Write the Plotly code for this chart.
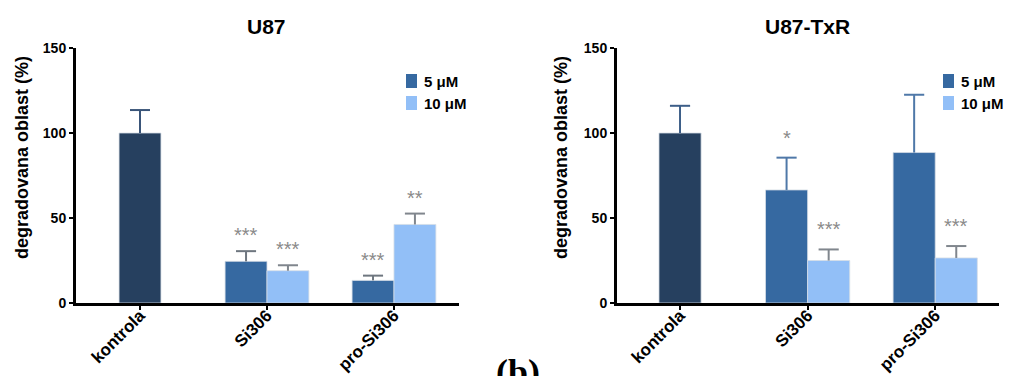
import plotly.graph_objects as go

# ---- data -------------------------------------------------------------
categories = ["kontrola", "Si306", "pro-Si306"]
treated = ["Si306", "pro-Si306"]
dose_labels = ["5 \u03bcM", "10 \u03bcM"]

# U87
u87_control = [100]
u87_control_err = [13.5]
u87_5uM = [24.5, 13.3]
u87_5uM_err = [6.0, 2.8]
u87_10uM = [19.0, 46.2]
u87_10uM_err = [3.2, 6.4]
u87_sig_5uM = ["***", "***"]
u87_sig_10uM = ["***", "**"]

# U87-TxR
txr_control = [100]
txr_control_err = [16.0]
txr_5uM = [66.5, 88.5]
txr_5uM_err = [19.0, 34.0]
txr_10uM = [25.0, 26.5]
txr_10uM_err = [6.5, 7.0]
txr_sig_5uM = ["*", ""]
txr_sig_10uM = ["***", "***"]

y_ticks = [0, 50, 100, 150]

# ---- style --------------------------------------------------------------
W, H = 1009, 376
FONT = "Arial, Liberation Sans, Helvetica, sans-serif"
C_CTRL = "#26405f"
C_5 = "#3669a1"
C_10 = "#92bff7"
EDGE = "#d6dde6"
BW = 0.33      # bar width in category units
CAP = 0.079    # half width of the error-bar caps in category units


def px_x(x):
    return x / W


def px_y(y):
    return 1 - y / H


def upper_error_lines(xs, vals, errs):
    """Stem + cap for upper-only error bars, as one broken polyline."""
    lx, ly = [], []
    for x, v, e in zip(xs, vals, errs):
        top = v + e
        lx += [x, x, None, x - CAP, x + CAP, None]
        ly += [v, top, None, top, top, None]
    return lx, ly


fig = go.Figure()

panels = [
    dict(xa="x", ya="y", ctrl=u87_control, ctrl_err=u87_control_err,
         d5=u87_5uM, e5=u87_5uM_err, d10=u87_10uM, e10=u87_10uM_err,
         s5=u87_sig_5uM, s10=u87_sig_10uM,
         ec_ctrl="#3a5579", ec5="#6e767f", ec10="#80868d", star_shift=16),
    dict(xa="x2", ya="y2", ctrl=txr_control, ctrl_err=txr_control_err,
         d5=txr_5uM, e5=txr_5uM_err, d10=txr_10uM, e10=txr_10uM_err,
         s5=txr_sig_5uM, s10=txr_sig_10uM,
         ec_ctrl="#3d5e88", ec5="#4f78a8", ec10="#80868d", star_shift=20),
]

cat_pos = {c: i for i, c in enumerate(categories)}
treated_pos = [cat_pos[c] for c in treated]

for p in panels:
    common = dict(xaxis=p["xa"], yaxis=p["ya"], showlegend=False,
                  marker_line=dict(color=EDGE, width=0.8))
    ctrl_x = [cat_pos["kontrola"]]
    x5 = [x - BW / 2 for x in treated_pos]
    x10 = [x + BW / 2 for x in treated_pos]

    fig.add_trace(go.Bar(x=ctrl_x, y=p["ctrl"], width=BW,
                         marker_color=C_CTRL, name="kontrola", **common))
    fig.add_trace(go.Bar(x=x5, y=p["d5"], width=BW,
                         marker_color=C_5, name=dose_labels[0], **common))
    fig.add_trace(go.Bar(x=x10, y=p["d10"], width=BW,
                         marker_color=C_10, name=dose_labels[1], **common))

    for xs, vals, errs, col in [
        (ctrl_x, p["ctrl"], p["ctrl_err"], p["ec_ctrl"]),
        (x5, p["d5"], p["e5"], p["ec5"]),
        (x10, p["d10"], p["e10"], p["ec10"]),
    ]:
        lx, ly = upper_error_lines(xs, vals, errs)
        fig.add_trace(go.Scatter(x=lx, y=ly, mode="lines", xaxis=p["xa"],
                                 yaxis=p["ya"], showlegend=False,
                                 hoverinfo="skip",
                                 line=dict(color=col, width=2)))

    # significance marks above the error caps
    for xs, vals, errs, marks in [
        (x5, p["d5"], p["e5"], p["s5"]),
        (x10, p["d10"], p["e10"], p["s10"]),
    ]:
        for x, v, e, m in zip(xs, vals, errs, marks):
            if not m:
                continue
            fig.add_annotation(
                x=x, y=v + e, xref=p["xa"], yref=p["ya"], text=m,
                showarrow=False, yanchor="middle", yshift=p["star_shift"],
                font=dict(family=FONT, size=20, color="#8a8a8a"))

fig.update_layout(barmode="overlay")

axis_common = dict(
    showline=True, linecolor="black", linewidth=3, showgrid=False,
    zeroline=False, ticks="outside", tickcolor="black", tickwidth=2,
    ticklen=4, mirror=False, automargin=False)

x_font = dict(family=FONT, size=17, color="black", weight="bold")
y_font = dict(family=FONT, size=14, color="black", weight="bold")
y_dom = [px_y(303), px_y(48)]
x_common = dict(tickvals=list(range(len(categories))), ticktext=categories,
                tickangle=-45, tickfont=x_font, ticklabelstandoff=-11)
fig.update_layout(
    xaxis=dict(domain=[px_x(76), px_x(459)], range=[-0.504, 2.512],
               anchor="y", **x_common, **axis_common),
    yaxis=dict(domain=y_dom, range=[0, 150], tickvals=y_ticks, anchor="x",
               tickfont=y_font, **axis_common),
    xaxis2=dict(domain=[px_x(617), px_x(999)], range=[-0.494, 2.5],
                anchor="y2", **x_common, **axis_common),
    yaxis2=dict(domain=y_dom, range=[0, 150], tickvals=y_ticks, anchor="x2",
                tickfont=y_font, **axis_common),
)

# titles, axis labels
for text, xc in [("U87", 266), ("U87-TxR", 807)]:
    fig.add_annotation(x=px_x(xc), y=px_y(27), xref="paper", yref="paper",
                       text=text, showarrow=False, xanchor="center",
                       yanchor="middle",
                       font=dict(family=FONT, size=21, color="black",
                                 weight="bold"))
for xc in [22, 561]:
    fig.add_annotation(x=px_x(xc), y=px_y(158), xref="paper", yref="paper",
                       text="degradovana oblast (%)", showarrow=False,
                       textangle=-90, xanchor="center", yanchor="middle",
                       font=dict(family=FONT, size=18, color="black",
                                 weight="bold"))

# legends
for lx in [406, 943]:
    for i, (lab, col) in enumerate(zip(dose_labels, [C_5, C_10])):
        yc = 81 + 22 * i
        fig.add_shape(type="rect", xref="paper", yref="paper",
                      x0=px_x(lx), x1=px_x(lx + 11),
                      y0=px_y(yc + 7), y1=px_y(yc - 7),
                      fillcolor=col, line=dict(width=0))
        fig.add_annotation(x=px_x(lx + 16), y=px_y(yc), xref="paper",
                           yref="paper", text=lab, showarrow=False,
                           xanchor="left", yanchor="middle",
                           font=dict(family=FONT, size=15, color="black",
                                     weight="bold"))

# panel letter
fig.add_annotation(x=px_x(518), y=px_y(350), xref="paper", yref="paper",
                   text="(b)", showarrow=False, xanchor="center",
                   yanchor="top",
                   font=dict(family="Liberation Serif, DejaVu Serif, serif",
                             size=36, color="black", weight="bold"))

fig.update_layout(width=W, height=H,
                  margin=dict(l=0, r=0, t=0, b=0, autoexpand=False),
                  paper_bgcolor="white", plot_bgcolor="white")

fig.write_html("out.html")
